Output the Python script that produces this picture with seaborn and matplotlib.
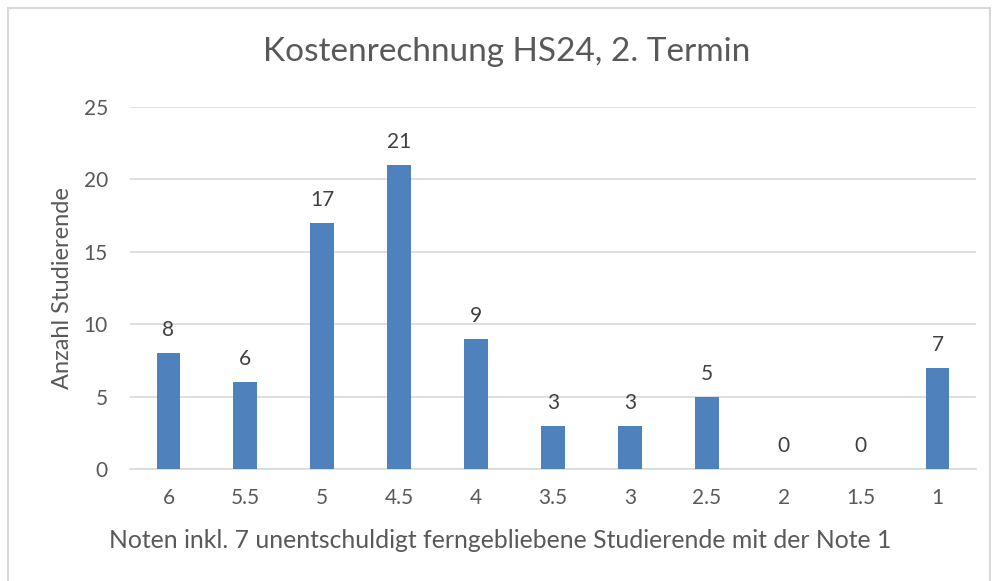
import pandas as pd
import matplotlib.pyplot as plt
import seaborn as sns

# Data
noten = ["6", "5.5", "5", "4.5", "4", "3.5", "3", "2.5", "2", "1.5", "1"]
anzahl = [8, 6, 17, 21, 9, 3, 3, 5, 0, 0, 7]

df = pd.DataFrame({"Note": noten, "Anzahl": anzahl})

sns.set_style("white")
plt.rcParams["font.family"] = ["Lato", "DejaVu Sans"]
text_col = "#595959"

fig = plt.figure(figsize=(9.94, 5.81), dpi=100)
ax = fig.add_axes([0.1308, 0.1928, 0.851, 0.623])

sns.barplot(data=df, x="Note", y="Anzahl", color="#4F81BD", width=0.31,
            saturation=1, ax=ax, zorder=3, linewidth=0)

ax.set_ylim(0, 25)
ax.set_yticks(range(0, 26, 5))
ax.set_xlim(-0.5, len(noten) - 0.5)
ax.grid(axis="y", color="#D9D9D9", linewidth=1.2, zorder=0)
for s in ["top", "right", "left"]:
    ax.spines[s].set_visible(False)
ax.spines["bottom"].set_color("#D9D9D9")
ax.spines["bottom"].set_linewidth(1.2)
ax.tick_params(axis="x", length=0, labelsize=15, colors=text_col, pad=14)
ax.tick_params(axis="y", length=0, labelsize=15, colors=text_col, pad=16)

# value labels above bars
for i, v in enumerate(anzahl):
    ax.text(i, v + 0.9, str(v), ha="center", va="bottom", fontsize=15, color="#404040")

ax.set_xlabel("")
fig.text(0.503, 0.07, "Noten inkl. 7 unentschuldigt ferngebliebene Studierende mit der Note 1",
         ha="center", va="center", fontsize=17.8, color=text_col)
ax.set_ylabel("")
fig.text(0.063, 0.505, "Anzahl Studierende", rotation=90, ha="center", va="center",
         fontsize=17, color=text_col)
fig.text(0.51, 0.91, "Kostenrechnung HS24, 2. Termin", ha="center", va="center",
         fontsize=24, color=text_col)

# light frame around the chart area
frame = plt.Rectangle((0.008, -0.01), 0.988, 0.996, transform=fig.transFigure,
                      fill=False, edgecolor="#D9D9D9", linewidth=1.5)
fig.patches.append(frame)

fig.savefig("out.png", dpi=100)
